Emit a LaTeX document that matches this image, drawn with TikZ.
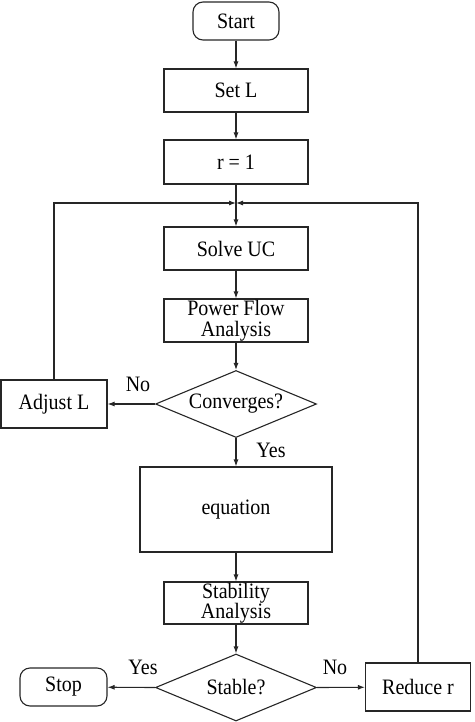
\documentclass[tikz,border=0pt]{standalone}
\usepackage{fontspec}
\setmainfont{Liberation Serif}[FakeStretch=0.91]
\usetikzlibrary{shapes.geometric,arrows.meta}
\begin{document}
\begin{tikzpicture}[x=1pt,y=-1pt,
  every node/.style={font=\fontsize{22}{20.5}\selectfont, text=black},
  line/.style={draw=black!85, line width=1.1pt},
  proc/.style={line, rectangle, inner sep=0pt, align=center},
  term/.style={line, rectangle, rounded corners=10pt, inner sep=0pt, align=center},
  decide/.style={line, diamond, inner sep=0pt, minimum width=161pt, minimum height=67pt},
  lab/.style={inner sep=0pt},
  arr/.style={line, -{Latex[length=7pt,width=5pt]}}]
\useasboundingbox (0,0) rectangle (474,722);
\node[term, minimum width=86pt, minimum height=38pt] (start) at (236,21) {Start};
\node[proc, minimum width=144pt, minimum height=43pt] (setl) at (236,90.5) {Set L};
\node[proc, minimum width=144pt, minimum height=44pt] (r1) at (236,162) {r = 1};
\coordinate (j) at (236,203);
\node[proc, minimum width=144pt, minimum height=43pt] (uc) at (236,248.5) {Solve UC};
\node[proc, minimum width=144pt, minimum height=43pt] (pfa) at (236,320.5) {Power Flow\\Analysis};
\node[decide] (conv) at (236,404) {};
\node[lab] (convt) at (conv.center) {Converges?};
\node[proc, minimum width=106pt, minimum height=48pt] (adj) at (54,404) {Adjust L};
\node[proc, minimum width=192pt, minimum height=85pt] (eq) at (236,509.5) {equation};
\node[proc, minimum width=144pt, minimum height=42pt] (stab) at (236,603) {Stability\\Analysis};
\node[decide] (stable) at (236,687.5) {};
\node[lab] (stablet) at (stable.center) {Stable?};
\node[term, minimum width=87pt, minimum height=38pt] (stop) at (63.5,687) {Stop};
\node[proc, minimum width=105pt, minimum height=48pt] (red) at (418,687) {Reduce r};
\node[lab] (no1) at (138,384) {No};
\node[lab] (yes1) at (271,450) {Yes};
\node[lab] (yes2) at (143,667) {Yes};
\node[lab] (no2) at (335,667) {No};
\draw[arr] (start) -- (setl);
\draw[arr] (setl) -- (r1);
\draw[arr] (r1) -- (uc);
\draw[arr] (uc) -- (pfa);
\draw[arr] (pfa) -- (conv.north);
\draw[arr] (conv.west) -- (adj);
\draw[arr] (conv.south) -- (eq);
\draw[arr] (eq) -- (stab);
\draw[arr] (stab) -- (stable.north);
\draw[arr] (stable.west) -- (stop);
\draw[arr] (stable.east) -- (red);
\draw[arr] (adj.north) -- (adj.north |- j) -- (j);
\draw[arr] (red.north) -- (red.north |- j) -- (j);
\end{tikzpicture}
\end{document}
